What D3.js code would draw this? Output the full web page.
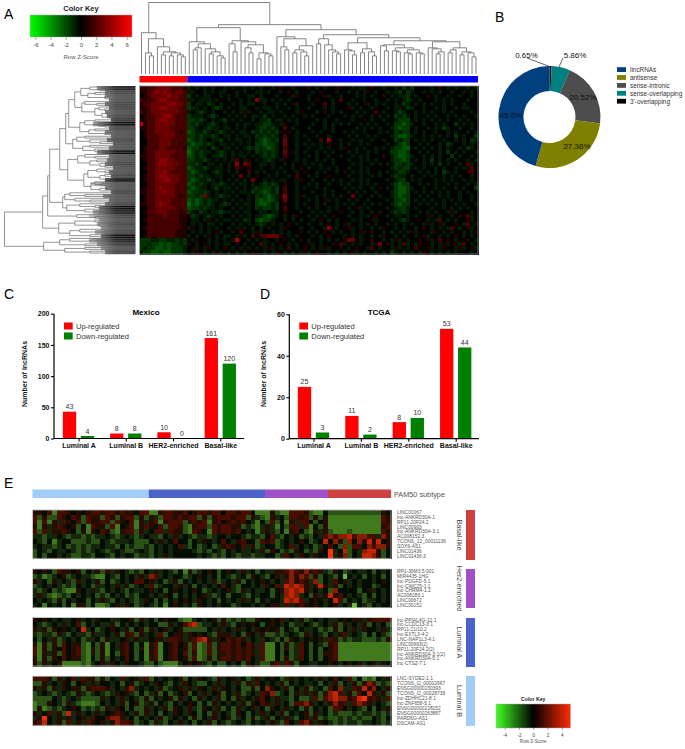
<!DOCTYPE html>
<html><head><meta charset="utf-8">
<script src="https://cdnjs.cloudflare.com/ajax/libs/d3/7.8.5/d3.min.js"></script>
<style>html,body{margin:0;padding:0;background:#fff}svg{display:block;font-family:"Liberation Sans",Arial,sans-serif}</style>
</head><body><svg id="c" width="685" height="749"></svg>
<script>
// ---------- data ----------
const codes = "abcd012345"; // -4 .. +5 level, estimated per cell
const heatA = [
"112233332221 d0d0d0d00d 0d00d0d0d0 0d0100d000 10d0d00100 0d0dd0100d 00d0c0c000 0d010d0d00 d0d",
"112343432332 dd00d0d0dd 00d0d00dd0 d00d010d00 0d01000d00 d0d0d10d00 d0dc0cd00d 0d0d00d00d 0d0",
"012333343322 c0d0dd00d0 d0d00dd0d0 00d000d100 d0001d00d0 00d0d0d001 0d0ddc0d00 10d00d00d0 0d0",
"212234433322 dd0ddd0d00 d00d0d04dd 0d0d0d0000 d01000d020 0d00d00d00 d0d0dcd0d0 00d0d0d000 d00",
"122333344332 c0dd0cd0d0 0d0d0dd00d 00d0d01d00 0d0020d000 d0d01d0d0d 00d0cd0d0d 0d00d0d00d 000",
"112334433322 cdd0d0dcd0 d00dd00d0d d0d00d0d00 d000d0d000 1d0d00d000 d0dd0cd00d 00d0d00d0d d00",
"212333333322 d0dcd0d00d 0d0d1d00d0 dd0d000d10 00d010d0d0 00d0d0020d 00dcd00d0d 0d00d0d000 0d0",
"012233443222 cddd0dcd00 d0d0d0dd0c 0d00d0d00d 0d000d000d 0d0d00d0d0 d0cdcd0d00 d0d00d0d0d 00d",
"112234433222 ccdcd0d0dc 0d0d00d0dd c0dd0d0d00 00d0d00d00 0d0010d00d 00dccc0d0d 0d0d0d00d0 d00",
"512233333222 cdcd0dcd0d 00d0dd0ddc cd0d100d00 0d00d0d0d0 d00d0d0d00 d0ccbcd00d 00d0d00c0d 0d0",
"112233332222 ccd0dcdd0d d0d0d00dcc dcd020d000 d000d0d000 00d0d0d0d0 0dcbcc0d00 d0d0cd00d0 0d0",
"012233333212 bcddcd0dcd 0d0dd0cdcd cdc1010d00 0d0d00d00d 0d00d000d0 d0cdcc0d0d 00d00d0d00 d0d",
"012223333222 ccdcddcd0d d0d0dd0cdc dcd0200d0d 00d00d0000 d0d00d0d00 0dcbbcd00d 0d0d0d0c0d 00c",
"002223332222 bcdcd0ddc0 d0dd0d0dcb cdc0300d00 d0020400d0 0d0d00d00d 00cdcc0d0d 0d00d00d0d 0cd",
"002223332212 cbccdcd0dd 0d0d0d0ccb ccd0300d0d 0d0d0100d0 d00d0d0000 d0dcbc00d0 d00d0cd00d 0d0",
"012223322221 bccdd0cd0d d0d0dcdcdc bcd0200d00 d00d0d00d1 00d0d00d0d 0dccbb0d0d 0d0d0d00d0 cd0",
"012233333222 acdcdd0dcd 0d0d0d0cdc dcd0301d0d 00d0d0d000 d0d00d0d00 0ccbbc00d0 d00d0c0d0d 00d",
"112233332222 bcdcd0ddcd 0d0dd0d0dc dcd0200d00 d0d00d00d0 0d0d0d0001 0dcbbcd00d 0d0d00c0d0 0d0",
"012234433222 ccddcd0d0d 0d20d10d0d cd0d100d0d 00d0d0d000 d00d0d0d00 0dccbc0d0d 0c0d0d0d00 d0d",
"002234433322 cdcd0dd0d0 d0403200dd 0d00d0d00d 0d0d00d000 0d0d00d0d0 d0ccdcd00d 0d0c0d00d0 2d0",
"012233333222 bcddcd0dd0 d0210100d0 0d0d00d010 d00d0d0d00 d00d0d0000 0dcdcc0d0d 00d0d00d0d 120",
"002233432222 cbcdd0dcd0 d0d0020d0d 00d0d00d01 00d0d00d01 0d0d0d00d0 d0dccd00d0 d0d0cd0d00 120",
"012234433322 ccdcdd0dd0 0d030d0100 d0d00d0200 d0d0010000 d00d00d0d0 0dcdd0d00d 0d00d0d0d0 0d0",
"012233443322 cbcddcd0d0 d0d0d0300d 0d0dd00d10 0d00d0d0d0 0d0d0d0000 d0dcc0d0d0 00d0d0d00d 0d0",
"002233333222 bcdcd0ddcd 0d0dd0d0dc dcd0100d00 d0d00d00d0 d00d0d0d00 0dcbcc00d0 d0d00d0d00 d0d",
"012234333222 cbcdd0dc0d d0d0d0dcdc cdc0200d0d 00d0d0000d 0d0d00d010 d0cbbcd00d 00d0d00d0d 00c",
"112233433222 bccdcd0d0d 0d0dd0cdcb cdc0200d00 0d00d0d000 d0d0d00d00 0dcbbc0d0d 0d0d0d00d0 d00",
"012233333212 ccdc3d0dcd d0d00d0cdc bcd1400d1d 00d0d0d0d0 030d00d0d0 0dcbcc00d0 d00d0d00d0 0d0",
"012233332222 bcbcdcdd0d 0d0d0d0cbc bcd0300d00 d0d01d0d00 d0d00d0000 d0ccbc0d0d 0d00d0d0d0 0d0",
"112234332222 acbcdcd0dc d0d0dd0cbb cdc0100d0d 00d0d00d0d 0d00d0d0d0 0dcbcc00d0 d0d0d00d0d 00d",
"002233333222 bccdcdd0d0 0d0d0d0cdc cdc0200d00 d0d00d0d00 d01d0d0000 d0dccd0d00 0d00d0d0d0 d00",
"012233322212 cd0cd0ddcd d0d0dd00dd 0dd01000d0 0d0d0d0010 0d0d00d0d0 0dcdcd00d0 d0d00d1d00 0d0",
"002222322211 1cd0dcd0d0 0d0d0d0ddc bcd0d0d100 d0d0d01000 d00d0d0100 d0dd0d0d00 1d0d00d010 2d0",
"012222222211 0dd0d10d0d d0d0cd0cbc cd00d0d0d0 0d010d0d00 0d0d001d00 0d0dcd0010 d0d20d0d00 1d0",
"002222222211 0d0d0dd0d0 0d0d0d0dcd 0d0d010d00 d00d010d01 d00d0d0d00 d0d0d0d00d 1d01d0010d 20d",
"012222222211 d10d0d0d00 d0d1d0d0d0 d00d1000d0 0d00d40d00 1d0d00d0d1 00d0d00d01 0d0d0d20d0 1d0",
"002222222111 0d0d0d01d0 0d0200d1d0 0d0d0d0010 d0d010d0d0 0d01d0100d 0d0d0d1d00 0d10d0d00d 0d1",
"012122222111 d0d0d10d0d d0d1d02022 33310d0d00 0d0d01000d 0d0d00d0d1 00d0d00d01 d00d0d010d 0d0",
"cccddccddcdc 0d100d0d0d 0d500d0d0d 00d010d010 d00d0d0d01 330d10100d 0d1d0d0010 1d02010d00 10d",
"ccdccbcbccdc 10d01d0d0d d010d0d02d 0d010d0d00 1d0d00102d 0d0d00d130 1d0d2d0d10 0d0d1d01d2 0d0",
"cdccbbcbcccd 01d0d10d01 0d0d1d0d0d 1d0d020d01 0d0d1d0010 d0100d20d0 0d1d0d0200 1d0d100d1d 01d",
"dccbbcbbcccd 0d10d0d1d0 d0d0d0100d 0d10d0d0d1 d0100d0d0d 01d0d00d0d 0cd0d0d0d1 0d0d0d0d00 0d0"
];
const heatB1 = [
"1102b22101 0122122121 1022bb1221 1201221220 221220bbb1 cbb2221cbb 0cccccccccc c1",
"2c1cc21021 c211c21c12 2c1c1dc221 2122c1c122 2122c1dcb1 d0c2212c1c 1bbbbbbbbbbb 21",
"2b2b1d2102 c21122c210 2b1d12b122 2c1212b120 12120db0c2 c0b1d220c0 1bbbbbbbbbbb 21",
"1b1d12101c 0b211c2b01 2b12102c22 1cb122c212 211cdcbd1d b0c22d2b0c 1bbbbbbbbbbb 12",
"2c2d11210c 1b1021cb12 2c1d022d21 1cb210b212 2120d0bd1d c0b120cb1d 1cbbbcbbbbbb 21",
"ddcdd0dcdd cdcdd0dcd0 dcd0ddc0d1 d0dcddcd00 d00dcddc02 dc0d0cdc0d 23233423322d 31",
"0dc0bd00cc cdcc0dcddd 0ccc0d1d02 00c0d10d02 0d1200c212 cd0d010cd0 4031c3031414 01",
"d0ddcd0cdc dcdd0ddc0c dccdc0d0d0 2dc0cd0cd1 2102d1cd00 cd02d0d0cd 020c3c220323 31",
"c0dc0dd0dc dcd0dcd0dc cd0dc0d0d0 000dcdc0dc 0d0dd0d1c1 0cdc10cdc1 05d04c0d3441 c0",
"c0c00d0dcc ddc00dc0d0 0cddc0d1d0 0000d0dcdc 0dcddcdd00 cd20d10d10 05d13c0d4431 c0"
];
const heatB2 = [
"1010c21101 c0d1c1d10d cdc0d1d0dc 0b1cd010c0 10d1d0c0dd 1123213121 dc10cd0dd0 c0d0",
"cdbcd01cd0 ddcbb0dc0d 0d1d32d0d0 0cd010d0c0 dcd0c10dc0 1d13132c1c 0dc0a0d0c0 d0c0",
"1d0c1d0dc1 d0d1c0cd0d 02201d0cd1 c0d0d0d1cd 0d1c0d010d 0d23121d3c 0d201d0d00 d010",
"cd0d0dcdc0 d0cdd0d1d1 cd0d2cd00d 1d0c0d0d02 0dc00d0d10 2d43431d14 1d1c0d0d00 cd00",
"dcd0cdcbb1 0d1dc0d0dc 0dd01d0c01 0d010cd0d0 1dc1d0dd0c 0134341d0d 0c30000c01 d0d0",
"d1dcbcdc0d 0d0cdc0d0c dc00d0d10c 0d0d01dcd0 c00dc0d00c 0d343d0c1d 14120d0dc0 c0d0",
"0d0dc1c0d0 0c0d1dc0d0 dcd10c0c0d 010d10d0c0 d0d1d0c0d0 0d4342d010 d042c0d0cd d0d0",
"d0b0d0c0b1 1c0bbc01d1 0cd0dc0b01 0d0c10d0d0 0cd00d0d01 1d2d121010 d01d0da0dc 0d00"
];
const heatB3 = [
"1010d0dd01 d0d100dd00 1c1d0c0100 cbbd0d01c1 cdcdcc1001 02d0d1cd0d 0dd01011d1 2222",
"0dcd0d1d02 c0d0dd1c0d 0d0d00cc1d 0234cdd0d1 dc01010c01 0d0cdd0dcd 0d1c1d0d1c 0d0c",
"1d1c1010d0 4d0cd010d1 c01c1d01d0 1ccccc0d1d 0d1d0d1010 1c0dc0dd0c dc1c0d1d10 0d1d",
"dcddc1dc0d dc1dd0d1c1 2c1d0d2c01 1d1010dc11 1d0c10d1cc dcd0dc1d0d c0d12d0dc0 c0dc",
"0c0d1cd0d0 cdd0c1dd01 d1dd011d22 1d12341d10 2121d0dd0d c0c10d0101 d21cdcddcc cdc1",
"1b1c1c2011 cb0c1b0d12 0c0b12b012 01c2bc2c12 212021d2bb 0c1cd20c0d c12bbbbbbbbb bb21",
"2b1c102012 cb1c1b0d12 0c1b12b012 01c2bc2c12 212121d2bb 0c1cd20c0c 012bbbbbbbbb bb21",
"2b1d1c2012 cb1c1b0c12 0c0b12b012 02c1bc2c11 212121d2bb 0c0cd20c0c 112bbbbbbbbb bb21",
"1b1c102011 cb0c1c0d02 0c0b12b012 01c2bc1c12 212120d2bb 0c1cd20c0c 012bbbbbbbbb bb21",
"1c1d01bbbb cbd01d10d1 00dcc0cbbb d0101dc0cc 0d0c10dcc1 2d21c00dd0 010d0101d0 1d10"
];
const heatB4 = [
"2221c1d02d 211c1c0d2d 01d2c0d0d0 1c0d10dc1d 01d0cd1d01 0cd1d0d0d1 d020d2c0bcb0 d1d0",
"cc1d0d10c0 1d1d00d0c0 1cd0d10dc0 d10dcc0d1d 0d1c1d20d0 d1c0d0dd0c 0d1c0d1c132 cdc0",
"1d1c1d1011 c12221d0d1 3d0d0d1cd0 1d1d10d1d1 0d0cc1c031 0d1c0d1cd0 c203dd21413 0d1c",
"cd0dcd0dc1 dcd0dcd101 dc0cd1c0cd 01c0d1d01c 0d1cd0d213 cd0c1d1d1c 1342d1c2041 d1c0",
"cccc0dcd0d cccc1d0d1d 0dc1c0d01c 1d0c1d0d1c 0c1d0d120d 1ddc0ccd2c 23433124512 1d20",
"bcc10dc1dc bbbc0d0d1c 01cd1c0dc0 d010c0c1d0 d0d1c1021d 1d0c2231d0 d1312d2321 d0dc",
"b1bcdcd010 cdcdc1d10c 0cc1d0d1c1 0d1dc10d1c 0c1d01d0c1 0d1d0c1c0d 0c220d0dc0c0 d1d0",
"1d02d1c4d1 d0d1d01210 d1c1d0c0d1 0d10c0c1d0 dc10c0d1d0 d1c0d01c1d 0cdcccdcddcd cdd0",
"d150d1d1d0 1d2002331d 0c0d0d1cd0 d0c1c0d1d0 1cd0c1cd1c 0d1dc01d1c dccdcdcdcc0d c0d0",
"1240d1c2d1 d2101d1322 1cd0c1dc0d 1d0c0d1c0d cd0dc0d0d1 dc20d231d1 0dcdcddcdd0d cd0d"
];
const topTree = [71,
 [41,0,[35,[21,0,[18,0,0]],[27,0,[22,[19,0,0],[21,[18,0,0],[19,0,[17,0,0]]]]]]],
 [49,
  [46,
   [32,0,[30,[26,[24,0,0],0],[25,0,[22,[20,0,0],[18,0,[16,0,0]]]]]],
   [33,[30,0,[22,0,0]],[32,0,[29,[26,0,[21,0,0]],[21,[15,0,0],[20,0,[18,0,0]]]]]]],
  [44,
   [37,0,[35,[27,0,[24,0,0]],[28,[24,[21,0,0],[22,0,[18,0,0]]],0]]],
   [39,
    [35,[30,0,0],[29,0,[24,0,[22,0,[20,0,0]]]]],
    [36,
     [31,[24,0,[23,0,[19,0,0]]],[25,[21,0,0],[22,0,[18,0,0]]]],
     [33,
      [29,[28,0,[23,0,0]],[26,[23,0,[22,0,0]],[24,[21,0,[20,0,0]],[21,0,[20,0,0]]]]],
      [32,[26,0,[25,0,[22,[20,0,0],0]]],[26,[24,[21,0,0],0],[22,[19,0,0],[21,0,[17,0,0]]]]]]]]]]];
const rowA1=[54,[45,0,[35,0,0]],[47,[40,0,0],[30,0,[20,0,0]]]];
const rowA2=[53,[50,0,[38,0,0]],[40,[36,0,[30,0,0]],[33,[28,0,0],[25,0,0]]]];
const rowA3=[55,[50,[40,0,0],[36,0,[30,0,0]]],[46,[40,0,0],[30,0,0]]];
const rowB=[62,[58,[50,0,0],[45,0,[35,0,0]]],[52,[45,0,0],[40,0,[28,0,0]]]];
const rowC1=[57,[50,0,[40,0,0]],[45,[38,0,0],[35,0,[30,0,0]]]];
const rowC2=[51,[47,[38,0,[30,0,0]],[35,[30,0,0],[25,0,0]]],[44,[40,0,[33,0,0]],[35,[28,0,0],0]]];
const rowD=[72,[70,[65,0,[50,0,0]],[60,0,[45,0,0]]],[68,[55,0,[40,0,0]],[50,0,[35,0,0]]]];
const rowE1=[58,0,[40,0,0]];
const rowE2=[76,[60,[40,0,0],[35,0,[25,0,0]]],[65,[55,0,[30,0,0]],[45,0,0]]];
const rowF=[91,[75,[65,0,[45,0,0]],[50,0,0]],[70,[50,0,0],[45,0,0]]];
const leftTree=[130,[92,[87,[85,[75,[69,[66,[60,rowA1,rowA2],rowA3],rowB],[67,rowC1,rowC2]],rowD],rowE1],rowE2],rowF];
const fringeDepth=[38,30,30,26,30,26,30,28,24,42,26,30,24,28,22,26,38,26,28,30,22,26,24,30,44,30,24,32,26,30,36,42,46,36,38,34,40,34,46,38,34,30];
const fringeShade=["#111","#444","#555","#555","#444","#444","#555","#444","#333","#000","#444","#555","#555","#444","#555","#555","#000","#555","#555","#444","#555","#555","#444","#000","#555","#555","#444","#555","#555","#444","#000","#111","#444","#555","#444","#555","#444","#000","#111","#333","#555","#444"];
const groupsMain=["Basal-like","Non-basal"];
const groupCounts=[12,73];
const groupColors=["#ff0000","#0000ff"];
const pieLabels=["3'-overlapping","sense-overlapping","sense-intronic","antisense","lincRNAs"];
const pieValues=[0.65,5.86,20.52,27.36,45.6];
const pieText=["0.65%","5.86%","20.52%","27.36%","45.6%"];
const pieColors=["#000000","#008080","#4d4d4d","#808000","#00407f"];
const legendOrder=[4,3,2,1,0];
const subtypes=["Luminal A","Luminal B","HER2-enriched","Basal-like"];
const mexicoUp=[43,8,10,161], mexicoDown=[4,8,0,120];
const tcgaUp=[25,11,8,53], tcgaDown=[3,2,10,44];
const pamCounts=[24,24,13,13];
const pamColors=["#a2cdf7","#4c62c8","#a050c8","#cf4040"];
const labelsBasal=["LINC01067","lnc-ANKRD30A-1","RP11-20F24.2","LINC00993","lnc-ANKRD30A-3:1","AC008152.3","TCONS_12_00011136","SOX9-AS1","LINC01436","LINC01436:3"];
const labelsHer2=["RP1-30M3.5-001","MIR4435-1HG","lnc-PDGFD-5:1","lnc-CWC25-1:1","lnc-CHRM4-1:2","AC008283.1","LINC00672","LINC00152"];
const labelsLumA=["lnc-PPIAL4G-12:1","lnc-CCDC13-3:1","RP11-21I10.2","lnc-EXTL3-4:2","LNC-NAP1L3-4:1","LINC00993(2)","RP11-20F24.2(2)","lnc-ANKRD30A-3:1(2)","lnc-ANKRD30A-5:1","lnc-CTSZ-7:1"];
const labelsLumB=["LNC-SYDE2-1:1","TCONS_l2_00002667","ENSG00000230393","TCONS_l2_00028739","lnc-ZDHHC21-8:1","lnc-ZNF658-5:1","ENSG00000228152","ENSG00000263887","PARD6G-AS1","DSCAM-AS1"];

// ---------- helpers ----------
const svg=d3.select("#c");
const defs=svg.append("defs");
const blur=defs.append("filter").attr("id","soft").attr("x","-2%").attr("y","-2%").attr("width","104%").attr("height","104%");
blur.append("feGaussianBlur").attr("stdDeviation",.5);
const parseRow=(s,n)=>s.replace(/ /g,"").padEnd(n,"0").slice(0,n).split("").map(c=>codes.indexOf(c)-4);
const txt=(x,y,t,o={})=>svg.append("text").attr("x",x).attr("y",y).text(t)
  .attr("font-size",o.size||8).attr("font-weight",o.bold?"bold":"normal")
  .attr("fill",o.fill||"#000").attr("text-anchor",o.anchor||"start");
["A","B","C","D","E"].forEach((l,i)=>txt([4,495,4,260,4][i],[19,22,299,299,488][i],l,{size:14}));

function heat(rows,n,x0,x1,y0,y1,color,border){
  const g=svg.append("g").attr("filter","url(#soft)").attr("shape-rendering","crispEdges");
  g.append("rect").attr("x",x0).attr("y",y0).attr("width",x1-x0).attr("height",y1-y0).attr("fill","#000");
  const xs=d3.scaleBand().domain(d3.range(n)).range([x0,x1]);
  const ys=d3.scaleBand().domain(d3.range(rows.length)).range([y0,y1]);
  rows.forEach((r,i)=>parseRow(r,n).forEach((v,j)=>g.append("rect")
    .attr("x",xs(j)).attr("y",ys(i)).attr("width",xs.bandwidth()+.6).attr("height",ys.bandwidth()+.6).attr("fill",color(v))));
  svg.append("rect").attr("x",x0).attr("y",y0).attr("width",x1-x0).attr("height",y1-y0)
    .attr("fill","none").attr("stroke",border).attr("stroke-width",.8);
  return xs;
}
function colorKey(id,x0,x1,y0,y1,dom,color,ticks,o){
  const g=defs.append("linearGradient").attr("id",id);
  d3.range(0,1.001,.05).forEach(t=>g.append("stop").attr("offset",t).attr("stop-color",color(dom[0]+(dom[1]-dom[0])*t)));
  svg.append("rect").attr("x",x0).attr("y",y0).attr("width",x1-x0).attr("height",y1-y0).attr("fill",`url(#${id})`).attr("stroke","#aaa").attr("stroke-width",.5);
  const s=d3.scaleLinear().domain(dom).range([x0,x1]);
  const a=svg.append("g").attr("transform",`translate(0,${y1})`).call(d3.axisBottom(s).tickValues(ticks).tickSize(o.tick).tickPadding(o.pad).tickFormat(d=>String(d)));
  a.select(".domain").remove();
  a.selectAll("line").attr("stroke","#555").attr("stroke-width",.5);
  a.selectAll("text").attr("font-size",o.size).attr("fill","#444").attr("font-family","inherit");
  txt((x0+x1)/2,y0-o.titleGap,"Color Key",{size:o.title,bold:true,anchor:"middle",fill:"#222"});
  txt((x0+x1)/2,y1+o.sub,"Row Z-Score",{size:o.size,anchor:"middle",fill:"#555"});
}
function tree(nested){
  const root=d3.hierarchy(nested,d=>Array.isArray(d)?d.slice(1):null);
  const leaves=root.leaves(); leaves.forEach((l,i)=>{l.idx=i;l.h=0;});
  root.eachAfter(n=>{ if(n.children){n.h=n.data[0]; n.pos=(n.children[0].pos+n.children[1].pos)/2;} else n.pos=n.idx; });
  return root;
}

// ---------- panel A ----------
const keyA=d3.scaleLinear().domain([-6.7,0,6.7]).range(["#00ff00","#000000","#ff0000"]);
const cellA=d3.scaleLinear().domain([-4,0,5]).range(["#006c00","#000000","#ac0000"]);
colorKey("keyA",30,132,15,37,[-6.7,6.7],keyA,[-6,-4,-2,0,2,4,6],{tick:3,pad:3,size:6,title:7.5,titleGap:4,sub:22});
const xsA=heat(heatA,85,139.5,478,86,254,cellA,"#888");
const tr=tree(topTree);
const topX=d3.scaleLinear().domain([0,84]).range([xsA(0)+xsA.bandwidth()/2,xsA(84)+xsA.bandwidth()/2]);
const topY=d3.scaleLinear().domain([0,71]).range([74,2.5]);
const topG=svg.append("g").attr("fill","none").attr("stroke","#666").attr("stroke-width",.8);
tr.descendants().filter(n=>n.children).forEach(n=>{
  const [a,b]=n.children;
  topG.append("path").attr("d",`M${topX(a.pos)},${topY(a.h)}V${topY(n.h)}H${topX(b.pos)}V${topY(b.h)}`);
});
const gx=d3.scaleBand().domain(d3.range(85)).range([139.5,478]);
let acc=0;
groupCounts.forEach((c,i)=>{svg.append("rect").attr("x",gx(acc)).attr("y",76).attr("width",gx.step()*c).attr("height",6.5).attr("fill",groupColors[i]);acc+=c;});
// left dendrogram
const lt=tree(leftTree);
const nLeaf=lt.leaves().length;
const ly=d3.scaleLinear().domain([0,nLeaf-1]).range([87,253]);
const lx=d3.scaleLinear().domain([0,130]).range([135,4.5]);
const fy=d3.scaleBand().domain(d3.range(fringeDepth.length)).range([86,254]);
fringeDepth.forEach((d,i)=>svg.append("rect").attr("x",lx(d)).attr("y",fy(i)).attr("width",135-lx(d)).attr("height",fy.bandwidth()+.2).attr("fill",fringeShade[i]));
const fade=defs.append("linearGradient").attr("id","fade");
fade.append("stop").attr("offset",0).attr("stop-color","#fff").attr("stop-opacity",.85);
fade.append("stop").attr("offset",.6).attr("stop-color","#fff").attr("stop-opacity",.05);
fade.append("stop").attr("offset",1).attr("stop-color","#fff").attr("stop-opacity",0);
svg.append("rect").attr("x",86).attr("y",86).attr("width",49).attr("height",168).attr("fill","url(#fade)");
const leftG=svg.append("g").attr("fill","none").attr("stroke","#666").attr("stroke-width",.7);
lt.descendants().filter(n=>n.children).forEach(n=>{
  const [a,b]=n.children;
  leftG.append("path").attr("d",`M${lx(a.h)},${ly(a.pos)}H${lx(n.h)}V${ly(b.pos)}H${lx(b.h)}`);
});
svg.append("rect").attr("x",135).attr("y",86).attr("width",.8).attr("height",168).attr("fill","#888");

// ---------- panel B ----------
const pie=d3.pie().sort(null)(pieValues);
const arc=d3.arc().innerRadius(26).outerRadius(51);
const cx=549.5,cy=117;
const pg=svg.append("g").attr("transform",`translate(${cx},${cy})`);
pg.selectAll("path").data(pie).join("path").attr("d",arc).attr("fill",(d,i)=>pieColors[i]);
svg.append("path").attr("d","M527,58L549.5,66.5").attr("stroke","#222").attr("stroke-width",.7);
svg.append("path").attr("d","M559,67L563,58").attr("stroke","#222").attr("stroke-width",.7);
const pieAt=[[526.5,57.5],[575,57.5],[583,100],[577,149],[511,118]];
pieText.forEach((t,i)=>txt(pieAt[i][0],pieAt[i][1],t,{size:8,anchor:"middle",fill:"#111"}));
legendOrder.forEach((k,i)=>{
  const y=69.5+i*7.9;
  svg.append("rect").attr("x",617).attr("y",y-2.3).attr("width",9).attr("height",4.8).attr("fill",pieColors[k]);
  txt(630,y+2.4,pieLabels[k],{size:6.4,fill:"#333"});
});

// ---------- panels C, D ----------
function bars(o){
  const x=d3.scalePoint().domain(subtypes).range(o.cx);
  const y=d3.scaleLinear().domain([0,o.max]).range([o.y0,o.y1]);
  const w=13.3, off=9;
  const g=svg.append("g");
  [[o.up,"#ff0000",-off],[o.down,"#008000",off]].forEach(([vals,c,d])=>{
    subtypes.forEach((s,i)=>{
      const v=vals[i];
      g.append("rect").attr("x",x(s)+d-w/2).attr("y",y(v)).attr("width",w).attr("height",o.y0-y(v)).attr("fill",c);
      txt(x(s)+d,y(v)-2.5,v,{size:7,anchor:"middle",fill:"#333"});
    });
  });
  const ax=svg.append("g").attr("transform",`translate(${o.x0},0)`).call(d3.axisLeft(y).tickValues(o.ticks).tickSize(3).tickPadding(1.5));
  ax.select(".domain").attr("stroke-width",1.2).attr("d",`M0,${o.y1}V${o.y0}`);
  ax.selectAll("line").attr("stroke-width",1.1);
  ax.selectAll("text").attr("font-size",7).attr("font-weight","bold").attr("font-family","inherit").attr("fill","#111");
  const bx=svg.append("g").attr("transform",`translate(0,${o.y0})`).call(d3.axisBottom(x).tickSize(3).tickPadding(1.5));
  bx.select(".domain").attr("stroke-width",1.2).attr("d",`M${o.x0},0H${o.x1}`);
  bx.selectAll("line").attr("stroke-width",1.1);
  bx.selectAll("text").attr("font-size",7).attr("font-weight","bold").attr("font-family","inherit").attr("fill","#111");
  txt(o.tx,314.5,o.title,{size:8,bold:true,anchor:"middle"});
  [["Up-regulated","#ff0000",326],["Down-regulated","#008000",336]].forEach(([t,c,ly2])=>{
    svg.append("rect").attr("x",o.lx).attr("y",ly2-3.5).attr("width",8.7).attr("height",7).attr("fill",c);
    txt(o.lx+12,ly2+2.7,t,{size:7.5,fill:"#333"});
  });
  svg.append("text").attr("transform",`translate(${o.ylx},374)rotate(-90)`).attr("text-anchor","middle")
    .attr("font-size",7).attr("font-weight","bold").attr("fill","#111").text("Number of lncRNAs");
}
bars({up:mexicoUp,down:mexicoDown,max:200,ticks:[0,50,100,150,200],x0:54,x1:244,y0:438.5,y1:313.7,cx:[78.5,220.3],title:"Mexico",tx:146,lx:64,ylx:27});
bars({up:tcgaUp,down:tcgaDown,max:60,ticks:[0,20,40,60],x0:289.3,x1:479,y0:438.7,y1:314.3,cx:[313.5,455.7],title:"TCGA",tx:379,lx:299.3,ylx:266});

// ---------- panel E ----------
const keyE=d3.scaleLinear().domain([-5.2,0,5.2]).range(["#44ff22","#000000","#ff2a00"]);
const cellE=d3.scaleLinear().domain([-4,-3,-1,0,2,5]).range(["#69b838","#3f7a1f","#16280c","#040703","#4a1000","#ff3300"]);
const ex=d3.scaleBand().domain(d3.range(74)).range([32.5,391]);
let ac2=0;
pamCounts.forEach((c,i)=>{svg.append("rect").attr("x",ex(ac2)).attr("y",489.5).attr("width",ex.step()*c+.1).attr("height",8.5).attr("fill",pamColors[i]);ac2+=c;});
txt(394,496.5,"PAM50 subtype",{size:7.3,fill:"#555"});
const panelsE=[
 {rows:heatB1,labels:labelsBasal,y0:510,y1:558.3,bar:[510,560],name:"Basal-like",color:pamColors[3]},
 {rows:heatB2,labels:labelsHer2,y0:569,y1:607.7,bar:[569,608],name:"Her2-enriched",color:pamColors[2]},
 {rows:heatB3,labels:labelsLumA,y0:617.5,y1:666,bar:[618,667],name:"Luminal A",color:pamColors[1]},
 {rows:heatB4,labels:labelsLumB,y0:676.3,y1:725.3,bar:[676,726],name:"Luminal B",color:pamColors[0]}
];
panelsE.forEach(p=>{
  heat(p.rows,74,32.5,391,p.y0,p.y1,cellE,"#bbb");
  const ly3=d3.scaleBand().domain(p.labels).range([p.y0,p.y1]);
  p.labels.forEach(l=>txt(397,ly3(l)+ly3.bandwidth()/2+1.7,l,{size:4.9,fill:"#555"}));
  svg.append("rect").attr("x",466).attr("y",p.bar[0]).attr("width",9).attr("height",p.bar[1]-p.bar[0]).attr("fill",p.color);
  svg.append("text").attr("transform",`translate(456.5,${(p.bar[0]+p.bar[1])/2})rotate(90)`).attr("text-anchor","middle")
    .attr("font-size",7.2).attr("fill","#444").text(p.name);
});
colorKey("keyE",496,570.5,704,728,[-5.2,5.2],keyE,[-4,-2,0,2,4],{tick:2,pad:3.5,size:4.6,title:5.2,titleGap:3,sub:15});
</script></body></html>
